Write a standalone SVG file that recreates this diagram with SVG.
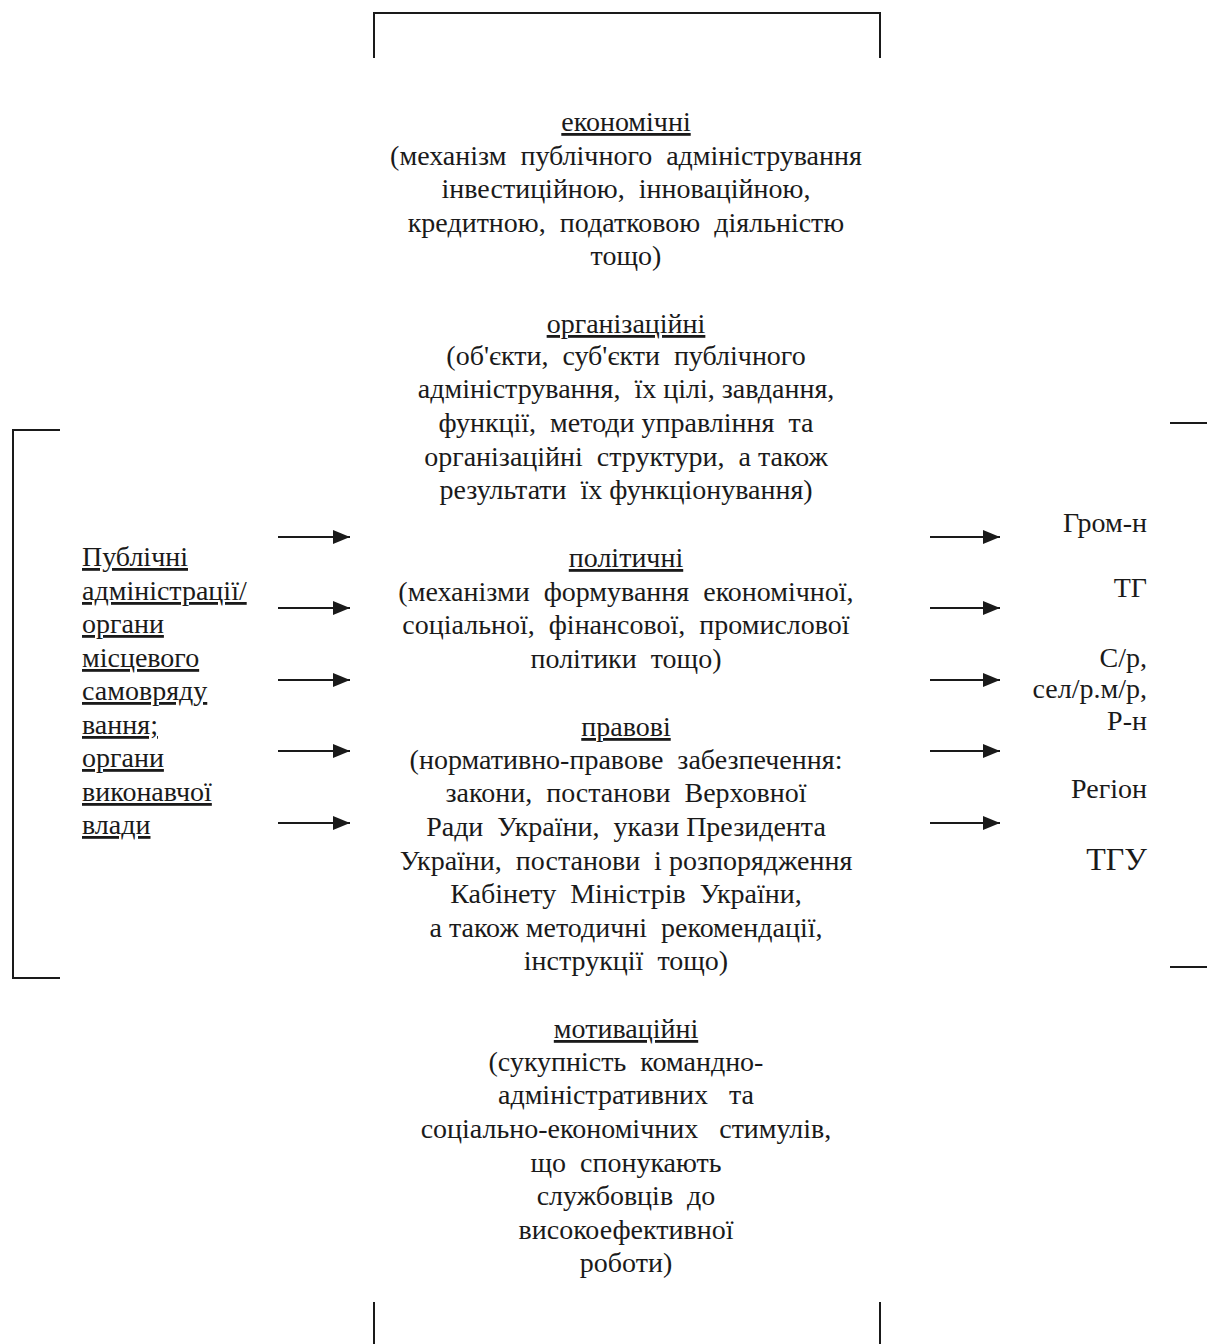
<svg xmlns="http://www.w3.org/2000/svg" width="1207" height="1344" viewBox="0 0 1207 1344" xml:space="preserve">
<defs>
<style>
.t{font-family:"Liberation Serif","Times New Roman",serif;font-size:28px;fill:#1a1a1a;white-space:pre}
.c{text-anchor:middle}
.r{text-anchor:end}
.u{text-decoration:underline}
.ln{stroke:#1a1a1a;stroke-width:2;fill:none}
.ar{stroke:#1a1a1a;stroke-width:2;fill:none}
</style>
<marker id="a" markerWidth="17" markerHeight="14" refX="17" refY="7" orient="auto" markerUnits="userSpaceOnUse" viewBox="0 0 17 14">
<path d="M0,0 L17,7 L0,14 Z" fill="#1a1a1a"/>
</marker>
</defs>
<rect width="1207" height="1344" fill="#fff"/>
<g id="brackets">
<path class="ln" d="M374,58 V13 H880 V58"/>
<path class="ln" d="M374,1302 V1344 M880,1302 V1344"/>
<path class="ln" d="M60,430 H13 V978 H60"/>
<path class="ln" d="M1170,423 H1207 M1170,967 H1207"/>
</g>
<g id="node-left">
<text class="t u" x="82" y="566">Публічні</text>
<text class="t u" x="82" y="600">адміністрації/</text>
<text class="t u" x="82" y="633">органи</text>
<text class="t u" x="82" y="667">місцевого</text>
<text class="t u" x="82" y="700">самовряду</text>
<text class="t u" x="82" y="734">вання;</text>
<text class="t u" x="82" y="767">органи</text>
<text class="t u" x="82" y="801">виконавчої</text>
<text class="t u" x="82" y="834">влади</text>
</g>
<g id="node-economic">
<text class="t c u" x="626" y="131">економічні</text>
<text class="t c" x="626" y="165">(механізм  публічного  адміністрування</text>
<text class="t c" x="626" y="198">інвестиційною,  інноваційною,</text>
<text class="t c" x="626" y="232">кредитною,  податковою  діяльністю</text>
<text class="t c" x="626" y="265">тощо)</text>
</g>
<g id="node-organizational">
<text class="t c u" x="626" y="333">організаційні</text>
<text class="t c" x="626" y="365">(об'єкти,  суб'єкти  публічного</text>
<text class="t c" x="626" y="398">адміністрування,  їх цілі, завдання,</text>
<text class="t c" x="626" y="432">функції,  методи управління  та</text>
<text class="t c" x="626" y="466">організаційні  структури,  а також</text>
<text class="t c" x="626" y="499">результати  їх функціонування)</text>
</g>
<g id="node-political">
<text class="t c u" x="626" y="567">політичні</text>
<text class="t c" x="626" y="601">(механізми  формування  економічної,</text>
<text class="t c" x="626" y="634">соціальної,  фінансової,  промислової</text>
<text class="t c" x="626" y="668">політики  тощо)</text>
</g>
<g id="node-legal">
<text class="t c u" x="626" y="736">правові</text>
<text class="t c" x="626" y="769">(нормативно-правове  забезпечення:</text>
<text class="t c" x="626" y="802">закони,  постанови  Верховної</text>
<text class="t c" x="626" y="836">Ради  України,  укази Президента</text>
<text class="t c" x="626" y="870">України,  постанови  і розпорядження</text>
<text class="t c" x="626" y="903">Кабінету  Міністрів  України,</text>
<text class="t c" x="626" y="937">а також методичні  рекомендації,</text>
<text class="t c" x="626" y="970">інструкції  тощо)</text>
</g>
<g id="node-motivational">
<text class="t c u" x="626" y="1038">мотиваційні</text>
<text class="t c" x="626" y="1071">(сукупність  командно-</text>
<text class="t c" x="626" y="1104">адміністративних   та</text>
<text class="t c" x="626" y="1138">соціально-економічних   стимулів,</text>
<text class="t c" x="626" y="1172">що  спонукають</text>
<text class="t c" x="626" y="1205">службовців  до</text>
<text class="t c" x="626" y="1239">високоефективної</text>
<text class="t c" x="626" y="1272">роботи)</text>
</g>
<g id="node-right">
<text class="t r" x="1147" y="532">Гром-н</text>
<text class="t r" x="1147" y="597">ТГ</text>
<text class="t r" x="1147" y="667">С/р,</text>
<text class="t r" x="1147" y="698">сел/р.м/р,</text>
<text class="t r" x="1147" y="730">Р-н</text>
<text class="t r" x="1147" y="798">Регіон</text>
<text class="t r" x="1147" y="870" style="font-size:32px">ТГУ</text>
</g>
<g id="connectors">
<line class="ar" x1="278" y1="537" x2="350" y2="537" marker-end="url(#a)"/>
<line class="ar" x1="278" y1="608" x2="350" y2="608" marker-end="url(#a)"/>
<line class="ar" x1="278" y1="680" x2="350" y2="680" marker-end="url(#a)"/>
<line class="ar" x1="278" y1="751" x2="350" y2="751" marker-end="url(#a)"/>
<line class="ar" x1="278" y1="823" x2="350" y2="823" marker-end="url(#a)"/>
<line class="ar" x1="930" y1="537" x2="1000" y2="537" marker-end="url(#a)"/>
<line class="ar" x1="930" y1="608" x2="1000" y2="608" marker-end="url(#a)"/>
<line class="ar" x1="930" y1="680" x2="1000" y2="680" marker-end="url(#a)"/>
<line class="ar" x1="930" y1="751" x2="1000" y2="751" marker-end="url(#a)"/>
<line class="ar" x1="930" y1="823" x2="1000" y2="823" marker-end="url(#a)"/>
</g>
</svg>
